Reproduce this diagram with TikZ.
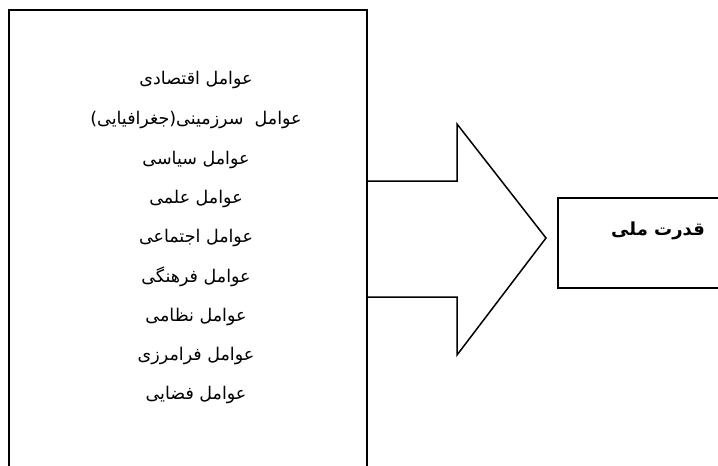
\documentclass[tikz,border=0pt]{standalone}
\usepackage{fontspec}
\newfontfamily\arabicfont[Script=Arabic]{DejaVu Sans}
\TeXXeTstate=1
\begin{document}
\begin{tikzpicture}[x=1pt,y=-1pt,line width=1pt,
  frame/.style={draw=black,line width=1.5pt,inner sep=0pt,anchor=north west},
  fac/.style={font=\arabicfont\fontsize{17.5}{20}\selectfont,inner sep=0pt,anchor=center},
  powtext/.style={font=\arabicfont\bfseries\fontsize{18}{20}\selectfont,inner sep=0pt,anchor=center},
  blockarrow/.style={draw=black,line width=1.5pt,line join=miter}]
\useasboundingbox (0,0) rectangle (718,466);
\clip (0,0) rectangle (718,466);
\node[frame,minimum width=358pt,minimum height=490pt] (factors) at (8,9) {};
\node[frame,minimum width=180pt,minimum height=90pt] (power) at (557,197) {};
\node[powtext] (powlabel) at (658,231) {\beginR قدرت ملی\endR};
\node[fac] (f1) at (196,80) {\beginR عوامل اقتصادی\endR};
\node[fac] (f2) at (196,120) {\beginR عوامل\ \ سرزمینی(جغرافیایی)\endR};
\node[fac] (f3) at (196,159.5) {\beginR عوامل سیاسی\endR};
\node[fac] (f4) at (196,199) {\beginR عوامل علمی\endR};
\node[fac] (f5) at (196,238) {\beginR عوامل اجتماعی\endR};
\node[fac] (f6) at (196,277) {\beginR عوامل فرهنگی\endR};
\node[fac] (f7) at (196,316.5) {\beginR عوامل نظامی\endR};
\node[fac] (f8) at (196,356) {\beginR عوامل فرامرزی\endR};
\node[fac] (f9) at (196,395) {\beginR عوامل فضایی\endR};
\coordinate (a1) at (factors.east |- 0,181);
\coordinate (a7) at (factors.east |- 0,297);
\coordinate (tip) at (546,238);
\draw[blockarrow] (a1) -- (457,181) -- (457,124) -- (tip) -- (457,355) -- (457,297) -- (a7);
\end{tikzpicture}
\end{document}
